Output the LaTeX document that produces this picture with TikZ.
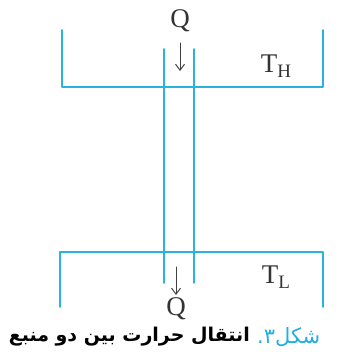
\documentclass[tikz,border=0pt]{standalone}
\usepackage{fontspec}
\setmainfont{Liberation Serif}
\newfontfamily\arabicfont[Script=Arabic]{DejaVu Sans}
\TeXXeTstate=1
\usetikzlibrary{arrows.meta,positioning}
\definecolor{wallblue}{RGB}{40,180,222}
\definecolor{capblue}{RGB}{35,175,225}
\newcommand\lowidx[1]{\raisebox{-0.45ex}{\fontsize{19}{19}\selectfont #1}}
\begin{document}
\begin{tikzpicture}[line cap=round, line join=round, x=1pt, y=-1pt, >={Straight Barb[length=6pt,width=9pt]}]
	\tikzset{wall/.style={wallblue, line width=1.8pt},
		flow/.style={->, black!75, line width=1pt},
		sym/.style={font=\fontsize{27}{27}\selectfont, text=black!80, inner sep=0pt},
		caption/.style={inner sep=0pt, font=\arabicfont\fontsize{19}{19}\selectfont}}
	\useasboundingbox (0,0) rectangle (339,352);
	% hot reservoir
	\draw[wall] (62,30)--(62,87)--(323,87)--(323,30);
	% cold reservoir
	\draw[wall] (60,307)--(60,252)--(323,252)--(323,307);
	% rod
	\draw[wall] (164,49)--(164,283);
	\draw[wall] (194,49)--(194,283);
	% labels
	\node[sym] (qH) at (180,21) {Q};
	\node[sym] (tH) at (276,66) {T\lowidx{H}};
	\node[sym] (tL) at (276,277) {T\lowidx{L}};
	\node[sym] (qL) at (176,309) {Q};
	\coordinate (aH1) at (180,43);
	\coordinate (aH2) at (180,71);
	\coordinate (aL1) at (176,267);
	\coordinate (aL2) at (176,295);
	\draw[flow] (aH1)--(aH2);
	\draw[flow] (aL1)--(aL2);
	% caption
	\node[caption, anchor=east] (capmain) at (250,337)
		{\bfseries\beginR انتقال حرارت بین دو منبع\endR};
	\node[caption, text=capblue, font=\arabicfont\fontsize{21}{21}\selectfont, right=7pt of capmain] (capnum)
		{\beginR شکل۳.\endR};
\end{tikzpicture}
\end{document}
